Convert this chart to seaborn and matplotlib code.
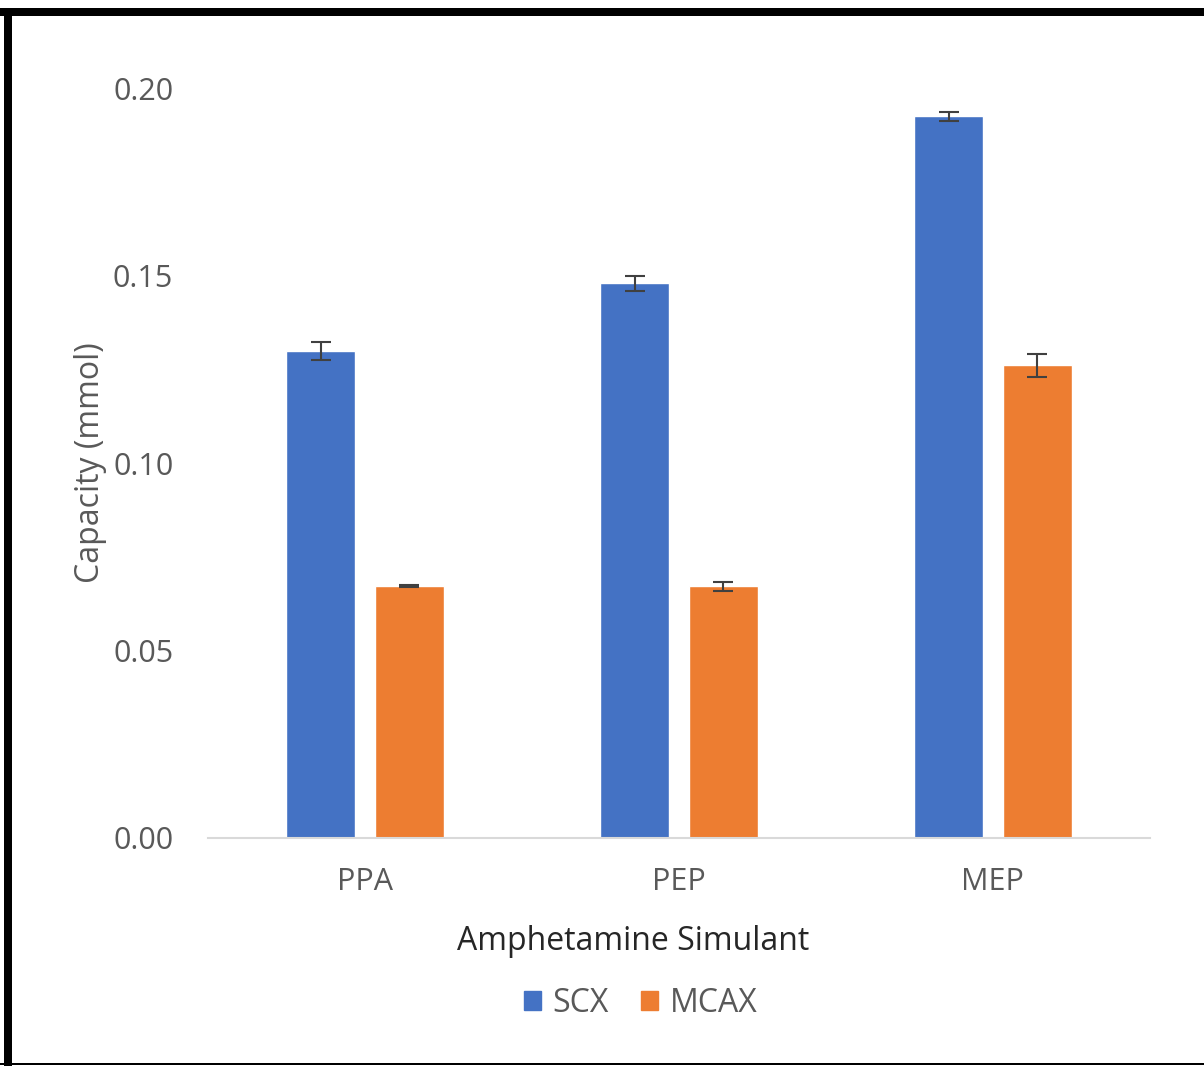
import matplotlib
matplotlib.use("Agg")
import matplotlib.pyplot as plt
import matplotlib.patches as mpatches
import seaborn as sns
import pandas as pd

# 数据
simulants = ['PPA', 'PEP', 'MEP']
scx = [0.1299, 0.1480, 0.1925]
mcax = [0.0672, 0.0672, 0.1261]
scx_err = [0.0025, 0.0020, 0.0012]
mcax_err = [0.0003, 0.0012, 0.0031]
yticks = [0.00, 0.05, 0.10, 0.15, 0.20]

sns.set_theme(style='white')
plt.rcParams['font.family'] = ['Open Sans', 'DejaVu Sans']

df = pd.DataFrame({
    'Simulant': simulants * 2,
    'Capacity': scx + mcax,
    'Type': ['SCX'] * 3 + ['MCAX'] * 3,
})

fig = plt.figure(figsize=(12.04, 10.66), dpi=100)
ax = fig.add_axes([0.1728, 0.2139, 0.955 - 0.1728, 0.9174 - 0.2139])

palette = {'SCX': '#4472C4', 'MCAX': '#ED7D31'}
sns.barplot(data=df, x='Simulant', y='Capacity', hue='Type', order=simulants,
            hue_order=['SCX', 'MCAX'], palette=palette, errorbar=None,
            width=0.565, gap=0.22, saturation=1, legend=False, ax=ax)

# 误差线
errs = scx_err + mcax_err
for p, e in zip(ax.patches, errs):
    ax.errorbar(p.get_x() + p.get_width() / 2, p.get_height(), yerr=e,
                fmt='none', ecolor='#404040', elinewidth=1.5, capsize=7, capthick=1.5)

ax.set_ylim(0, 0.2)
ax.set_xlim(-0.5, 2.5)
ax.set_yticks(yticks)
ax.set_yticklabels([f'{v:.2f}' for v in yticks])
ax.tick_params(axis='y', length=0, pad=25, labelsize=22, labelcolor='#595959')
ax.tick_params(axis='x', length=0, pad=21, labelsize=22, labelcolor='#595959')

for s in ['top', 'right', 'left']:
    ax.spines[s].set_visible(False)
ax.spines['bottom'].set_color('#d9d9d9')
ax.spines['bottom'].set_linewidth(1.5)

ax.set_ylabel('Capacity (mmol)', fontsize=23, color='#595959', labelpad=4)
ax.set_xlabel('Amphetamine Simulant', fontsize=23, color='#262626', labelpad=20, x=0.451)

handles = [mpatches.Patch(color=palette[k], label=k) for k in ['SCX', 'MCAX']]
fig.legend(handles=handles, loc='center', bbox_to_anchor=(0.532, 0.059), ncol=2,
           frameon=False, fontsize=23, handlelength=0.55, handleheight=0.55,
           columnspacing=1.0, handletextpad=0.35, labelcolor='#595959')

# 外框
fig.add_artist(mpatches.Rectangle((0, 1 - 16 / 1066), 1, 8 / 1066, transform=fig.transFigure,
                                  color='black', lw=0))
fig.add_artist(mpatches.Rectangle((4 / 1204, 0), 8 / 1204, 1 - 8 / 1066, transform=fig.transFigure,
                                  color='black', lw=0))
fig.add_artist(mpatches.Rectangle((0, 1 / 1066), 1, 2 / 1066, transform=fig.transFigure,
                                  color='black', lw=0))

fig.savefig('out.png', dpi=100, facecolor='white')
